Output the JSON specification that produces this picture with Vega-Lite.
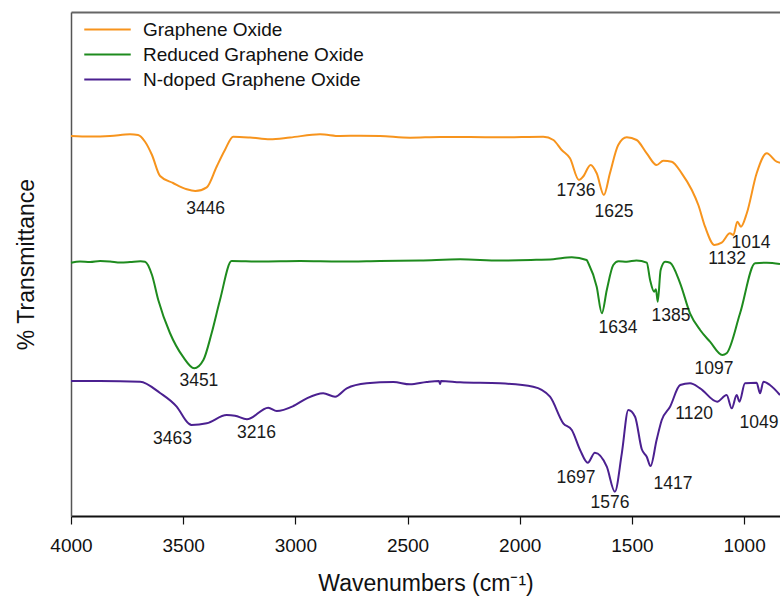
{
  "$schema": "https://vega.github.io/schema/vega-lite/v6.json",
  "width": 709,
  "height": 504,
  "autosize": {"type": "none"},
  "padding": {"left": 71, "top": 12, "right": 0, "bottom": 85},
  "background": "white",
  "config": {
    "view": {"stroke": null},
    "font": "Liberation Sans",
    "axis": {"grid": false, "labelFont": "Liberation Sans", "titleFont": "Liberation Sans", "titleFontWeight": "normal", "labelColor": "#111", "titleColor": "#111"}
  },
  "datasets": {
    "spectra": [
      {"series": "Graphene Oxide", "wn": 4000, "T": 380}, {"series": "Graphene Oxide", "wn": 3915, "T": 379.5}, {"series": "Graphene Oxide", "wn": 3826, "T": 380}, {"series": "Graphene Oxide", "wn": 3737, "T": 381.7}, {"series": "Graphene Oxide", "wn": 3701, "T": 381}, {"series": "Graphene Oxide", "wn": 3670, "T": 374.3}, {"series": "Graphene Oxide", "wn": 3639, "T": 361}, {"series": "Graphene Oxide", "wn": 3603, "T": 340}, {"series": "Graphene Oxide", "wn": 3545, "T": 333}, {"series": "Graphene Oxide", "wn": 3484, "T": 326.7}, {"series": "Graphene Oxide", "wn": 3446, "T": 325}, {"series": "Graphene Oxide", "wn": 3395, "T": 328.7}, {"series": "Graphene Oxide", "wn": 3351, "T": 349.3}, {"series": "Graphene Oxide", "wn": 3314, "T": 366}, {"series": "Graphene Oxide", "wn": 3277, "T": 379.3}, {"series": "Graphene Oxide", "wn": 3202, "T": 378.5}, {"series": "Graphene Oxide", "wn": 3113, "T": 376.7}, {"series": "Graphene Oxide", "wn": 3024, "T": 378.5}, {"series": "Graphene Oxide", "wn": 2890, "T": 381.7}, {"series": "Graphene Oxide", "wn": 2801, "T": 380}, {"series": "Graphene Oxide", "wn": 2712, "T": 380.3}, {"series": "Graphene Oxide", "wn": 2623, "T": 380}, {"series": "Graphene Oxide", "wn": 2489, "T": 378.3}, {"series": "Graphene Oxide", "wn": 2355, "T": 379}, {"series": "Graphene Oxide", "wn": 2221, "T": 379}, {"series": "Graphene Oxide", "wn": 2088, "T": 378.7}, {"series": "Graphene Oxide", "wn": 1895, "T": 379.3}, {"series": "Graphene Oxide", "wn": 1850, "T": 376}, {"series": "Graphene Oxide", "wn": 1813, "T": 366}, {"series": "Graphene Oxide", "wn": 1776, "T": 357.7}, {"series": "Graphene Oxide", "wn": 1736, "T": 336}, {"series": "Graphene Oxide", "wn": 1718, "T": 339.3}, {"series": "Graphene Oxide", "wn": 1684, "T": 351}, {"series": "Graphene Oxide", "wn": 1657, "T": 342.7}, {"series": "Graphene Oxide", "wn": 1625, "T": 321}, {"series": "Graphene Oxide", "wn": 1598, "T": 342.7}, {"series": "Graphene Oxide", "wn": 1561, "T": 371}, {"series": "Graphene Oxide", "wn": 1523, "T": 378.7}, {"series": "Graphene Oxide", "wn": 1479, "T": 376}, {"series": "Graphene Oxide", "wn": 1434, "T": 362.7}, {"series": "Graphene Oxide", "wn": 1390, "T": 351}, {"series": "Graphene Oxide", "wn": 1360, "T": 355.3}, {"series": "Graphene Oxide", "wn": 1323, "T": 354.3}, {"series": "Graphene Oxide", "wn": 1278, "T": 342.7}, {"series": "Graphene Oxide", "wn": 1233, "T": 326}, {"series": "Graphene Oxide", "wn": 1204, "T": 311}, {"series": "Graphene Oxide", "wn": 1174, "T": 289.3}, {"series": "Graphene Oxide", "wn": 1132, "T": 271}, {"series": "Graphene Oxide", "wn": 1100, "T": 273.3}, {"series": "Graphene Oxide", "wn": 1063, "T": 282.7}, {"series": "Graphene Oxide", "wn": 1048, "T": 281}, {"series": "Graphene Oxide", "wn": 1030, "T": 294.3}, {"series": "Graphene Oxide", "wn": 1014, "T": 289.3}, {"series": "Graphene Oxide", "wn": 988, "T": 302.7}, {"series": "Graphene Oxide", "wn": 944, "T": 342.7}, {"series": "Graphene Oxide", "wn": 899, "T": 362.7}, {"series": "Graphene Oxide", "wn": 855, "T": 354.3}, {"series": "Graphene Oxide", "wn": 840, "T": 353.3},
      {"series": "Reduced Graphene Oxide", "wn": 4000, "T": 253.3}, {"series": "Reduced Graphene Oxide", "wn": 3960, "T": 254.5}, {"series": "Reduced Graphene Oxide", "wn": 3915, "T": 254}, {"series": "Reduced Graphene Oxide", "wn": 3870, "T": 255}, {"series": "Reduced Graphene Oxide", "wn": 3826, "T": 254.5}, {"series": "Reduced Graphene Oxide", "wn": 3780, "T": 253.5}, {"series": "Reduced Graphene Oxide", "wn": 3737, "T": 254}, {"series": "Reduced Graphene Oxide", "wn": 3690, "T": 254.8}, {"series": "Reduced Graphene Oxide", "wn": 3670, "T": 254.3}, {"series": "Reduced Graphene Oxide", "wn": 3639, "T": 241}, {"series": "Reduced Graphene Oxide", "wn": 3611, "T": 216}, {"series": "Reduced Graphene Oxide", "wn": 3559, "T": 183}, {"series": "Reduced Graphene Oxide", "wn": 3501, "T": 159.3}, {"series": "Reduced Graphene Oxide", "wn": 3451, "T": 147.7}, {"series": "Reduced Graphene Oxide", "wn": 3410, "T": 156}, {"series": "Reduced Graphene Oxide", "wn": 3373, "T": 183}, {"series": "Reduced Graphene Oxide", "wn": 3336, "T": 216}, {"series": "Reduced Graphene Oxide", "wn": 3284, "T": 255}, {"series": "Reduced Graphene Oxide", "wn": 3158, "T": 254.5}, {"series": "Reduced Graphene Oxide", "wn": 2979, "T": 255}, {"series": "Reduced Graphene Oxide", "wn": 2801, "T": 254.5}, {"series": "Reduced Graphene Oxide", "wn": 2623, "T": 255}, {"series": "Reduced Graphene Oxide", "wn": 2444, "T": 255.5}, {"series": "Reduced Graphene Oxide", "wn": 2266, "T": 256.7}, {"series": "Reduced Graphene Oxide", "wn": 2088, "T": 255.5}, {"series": "Reduced Graphene Oxide", "wn": 1950, "T": 256}, {"series": "Reduced Graphene Oxide", "wn": 1850, "T": 256.8}, {"series": "Reduced Graphene Oxide", "wn": 1768, "T": 258.7}, {"series": "Reduced Graphene Oxide", "wn": 1702, "T": 256}, {"series": "Reduced Graphene Oxide", "wn": 1694, "T": 252.7}, {"series": "Reduced Graphene Oxide", "wn": 1657, "T": 229.3}, {"series": "Reduced Graphene Oxide", "wn": 1634, "T": 202.7}, {"series": "Reduced Graphene Oxide", "wn": 1612, "T": 226}, {"series": "Reduced Graphene Oxide", "wn": 1583, "T": 251}, {"series": "Reduced Graphene Oxide", "wn": 1560, "T": 254.8}, {"series": "Reduced Graphene Oxide", "wn": 1523, "T": 254.3}, {"series": "Reduced Graphene Oxide", "wn": 1480, "T": 255.5}, {"series": "Reduced Graphene Oxide", "wn": 1434, "T": 253.3}, {"series": "Reduced Graphene Oxide", "wn": 1419, "T": 236}, {"series": "Reduced Graphene Oxide", "wn": 1401, "T": 224.3}, {"series": "Reduced Graphene Oxide", "wn": 1393, "T": 226.7}, {"series": "Reduced Graphene Oxide", "wn": 1385, "T": 214.3}, {"series": "Reduced Graphene Oxide", "wn": 1372, "T": 246}, {"series": "Reduced Graphene Oxide", "wn": 1352, "T": 254.3}, {"series": "Reduced Graphene Oxide", "wn": 1330, "T": 253.3}, {"series": "Reduced Graphene Oxide", "wn": 1285, "T": 232.7}, {"series": "Reduced Graphene Oxide", "wn": 1241, "T": 202.7}, {"series": "Reduced Graphene Oxide", "wn": 1196, "T": 186}, {"series": "Reduced Graphene Oxide", "wn": 1152, "T": 174.3}, {"series": "Reduced Graphene Oxide", "wn": 1097, "T": 161}, {"series": "Reduced Graphene Oxide", "wn": 1078, "T": 162.7}, {"series": "Reduced Graphene Oxide", "wn": 1018, "T": 202.7}, {"series": "Reduced Graphene Oxide", "wn": 951, "T": 252.7}, {"series": "Reduced Graphene Oxide", "wn": 899, "T": 253.3}, {"series": "Reduced Graphene Oxide", "wn": 840, "T": 252},
      {"series": "N-doped Graphene Oxide", "wn": 4000, "T": 135}, {"series": "N-doped Graphene Oxide", "wn": 3871, "T": 135}, {"series": "N-doped Graphene Oxide", "wn": 3692, "T": 134.3}, {"series": "N-doped Graphene Oxide", "wn": 3603, "T": 123}, {"series": "N-doped Graphene Oxide", "wn": 3529, "T": 109.3}, {"series": "N-doped Graphene Oxide", "wn": 3477, "T": 92.7}, {"series": "N-doped Graphene Oxide", "wn": 3463, "T": 91}, {"series": "N-doped Graphene Oxide", "wn": 3395, "T": 92.7}, {"series": "N-doped Graphene Oxide", "wn": 3306, "T": 101}, {"series": "N-doped Graphene Oxide", "wn": 3269, "T": 100.3}, {"series": "N-doped Graphene Oxide", "wn": 3216, "T": 96.7}, {"series": "N-doped Graphene Oxide", "wn": 3121, "T": 108.3}, {"series": "N-doped Graphene Oxide", "wn": 3083, "T": 105}, {"series": "N-doped Graphene Oxide", "wn": 3009, "T": 110}, {"series": "N-doped Graphene Oxide", "wn": 2949, "T": 117.7}, {"series": "N-doped Graphene Oxide", "wn": 2876, "T": 122.7}, {"series": "N-doped Graphene Oxide", "wn": 2823, "T": 119.3}, {"series": "N-doped Graphene Oxide", "wn": 2771, "T": 127.7}, {"series": "N-doped Graphene Oxide", "wn": 2682, "T": 132.7}, {"series": "N-doped Graphene Oxide", "wn": 2563, "T": 134}, {"series": "N-doped Graphene Oxide", "wn": 2489, "T": 131.7}, {"series": "N-doped Graphene Oxide", "wn": 2415, "T": 134}, {"series": "N-doped Graphene Oxide", "wn": 2360, "T": 135}, {"series": "N-doped Graphene Oxide", "wn": 2355, "T": 132}, {"series": "N-doped Graphene Oxide", "wn": 2351, "T": 135}, {"series": "N-doped Graphene Oxide", "wn": 2266, "T": 133.7}, {"series": "N-doped Graphene Oxide", "wn": 2088, "T": 132.7}, {"series": "N-doped Graphene Oxide", "wn": 1940, "T": 129.3}, {"series": "N-doped Graphene Oxide", "wn": 1865, "T": 119.3}, {"series": "N-doped Graphene Oxide", "wn": 1806, "T": 92.7}, {"series": "N-doped Graphene Oxide", "wn": 1768, "T": 86}, {"series": "N-doped Graphene Oxide", "wn": 1731, "T": 66}, {"series": "N-doped Graphene Oxide", "wn": 1697, "T": 53.3}, {"series": "N-doped Graphene Oxide", "wn": 1665, "T": 63.3}, {"series": "N-doped Graphene Oxide", "wn": 1612, "T": 49.3}, {"series": "N-doped Graphene Oxide", "wn": 1576, "T": 24.3}, {"series": "N-doped Graphene Oxide", "wn": 1545, "T": 62.7}, {"series": "N-doped Graphene Oxide", "wn": 1516, "T": 106}, {"series": "N-doped Graphene Oxide", "wn": 1486, "T": 99.3}, {"series": "N-doped Graphene Oxide", "wn": 1456, "T": 66.7}, {"series": "N-doped Graphene Oxide", "wn": 1434, "T": 59.3}, {"series": "N-doped Graphene Oxide", "wn": 1417, "T": 50}, {"series": "N-doped Graphene Oxide", "wn": 1390, "T": 76}, {"series": "N-doped Graphene Oxide", "wn": 1367, "T": 96}, {"series": "N-doped Graphene Oxide", "wn": 1330, "T": 109.3}, {"series": "N-doped Graphene Oxide", "wn": 1285, "T": 131}, {"series": "N-doped Graphene Oxide", "wn": 1241, "T": 132.7}, {"series": "N-doped Graphene Oxide", "wn": 1196, "T": 127.7}, {"series": "N-doped Graphene Oxide", "wn": 1120, "T": 114.3}, {"series": "N-doped Graphene Oxide", "wn": 1078, "T": 121}, {"series": "N-doped Graphene Oxide", "wn": 1055, "T": 107.7}, {"series": "N-doped Graphene Oxide", "wn": 1033, "T": 121}, {"series": "N-doped Graphene Oxide", "wn": 1021, "T": 114.3}, {"series": "N-doped Graphene Oxide", "wn": 996, "T": 132.7}, {"series": "N-doped Graphene Oxide", "wn": 944, "T": 133.3}, {"series": "N-doped Graphene Oxide", "wn": 929, "T": 122.7}, {"series": "N-doped Graphene Oxide", "wn": 914, "T": 134.3}, {"series": "N-doped Graphene Oxide", "wn": 885, "T": 131}, {"series": "N-doped Graphene Oxide", "wn": 840, "T": 121}
    ],
    "labels": [
      {"wn": 3400, "T": 307, "label": "3446"}, {"wn": 1749, "T": 325, "label": "1736"}, {"wn": 1580, "T": 304.3, "label": "1625"}, {"wn": 1076, "T": 257, "label": "1132"}, {"wn": 969, "T": 273.5, "label": "1014"},
      {"wn": 3430, "T": 135, "label": "3451"}, {"wn": 1562, "T": 188, "label": "1634"}, {"wn": 1326, "T": 200, "label": "1385"}, {"wn": 1134, "T": 147, "label": "1097"},
      {"wn": 3548, "T": 77, "label": "3463"}, {"wn": 3173, "T": 83, "label": "3216"}, {"wn": 1223, "T": 102, "label": "1120"}, {"wn": 934, "T": 93.5, "label": "1049"}, {"wn": 1749, "T": 38.5, "label": "1697"}, {"wn": 1598, "T": 13.5, "label": "1576"}, {"wn": 1317, "T": 32, "label": "1417"}
    ]
  },
  "layer": [
    {
      "data": {"name": "spectra"},
      "mark": {"type": "line", "strokeWidth": 2, "interpolate": "monotone"},
      "encoding": {
        "x": {"field": "wn", "type": "quantitative", "sort": null,
          "scale": {"domain": [840, 4000], "reverse": true, "nice": false, "zero": false},
          "axis": {"orient": "bottom", "values": [4000, 3500, 3000, 2500, 2000, 1500, 1000], "format": "d", "title": "Wavenumbers (cm⁻¹)", "titleFontSize": 23, "labelFontSize": 19, "tickSize": 8, "tickColor": "#111", "tickWidth": 1.2, "domainColor": "#111", "domainWidth": 2, "labelPadding": 12, "titlePadding": 17, "labelFlush": false}},
        "y": {"field": "T", "type": "quantitative",
          "scale": {"domain": [0, 504], "nice": false, "zero": false},
          "axis": {"orient": "left", "title": "% Transmittance", "titleFontSize": 23, "labels": false, "ticks": false, "domainColor": "#555", "domainWidth": 1.5, "titlePadding": 33}},
        "color": {"field": "series", "type": "nominal",
          "scale": {"domain": ["Graphene Oxide", "Reduced Graphene Oxide", "N-doped Graphene Oxide"], "range": ["#F7941D", "#1E8B1E", "#4B2090"]},
          "legend": {"orient": "none", "legendX": 27, "legendY": 8, "title": null, "padding": 0, "symbolType": "M-3,0H3", "symbolSize": 240, "symbolStrokeWidth": 2, "labelFontSize": 19, "labelFont": "Liberation Sans", "labelColor": "#111", "labelOffset": 26, "labelLimit": 400, "rowPadding": 5}}
      }
    },
    {
      "data": {"name": "labels"},
      "mark": {"type": "text", "fontSize": 17.5, "font": "Liberation Sans", "color": "#1a1a1a", "align": "center", "baseline": "middle"},
      "encoding": {
        "x": {"field": "wn", "type": "quantitative", "axis": {"orient": "top", "labels": false, "ticks": false, "title": null, "domainColor": "#666", "domainWidth": 2}},
        "y": {"field": "T", "type": "quantitative", "axis": {"orient": "left", "title": "% Transmittance", "titleFontSize": 23, "labels": false, "ticks": false, "domainColor": "#555", "domainWidth": 1.5, "titlePadding": 33}},
        "text": {"field": "label"}
      }
    }
  ]
}
